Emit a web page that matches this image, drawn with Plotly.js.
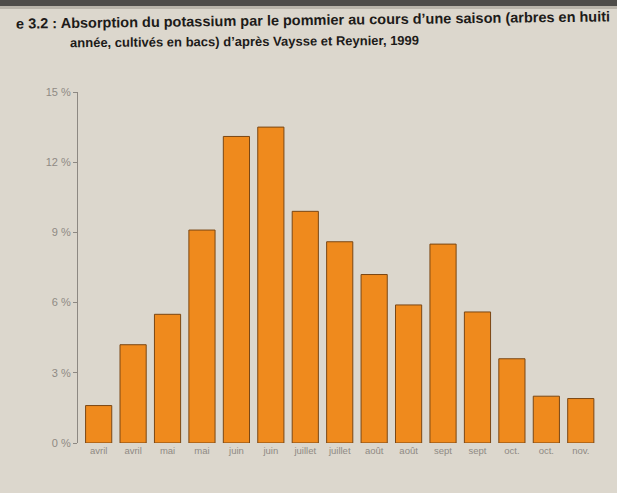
<!DOCTYPE html>
<html>
<head>
<meta charset="utf-8">
<script src="https://cdn.plot.ly/plotly-3.0.1.min.js"></script>
<style>html,body{margin:0;padding:0;background:#dcd7cd;}#chart{width:617px;height:493px;}</style>
</head>
<body>
<div id="chart"></div>
<script>
// Month labels (two bars per month, last one "nov.")
const monthLabels = ["avril","avril","mai","mai","juin","juin","juillet","juillet","août","août","sept","sept","oct.","oct.","nov."];
// Share of the season's potassium absorption (%)
const absorption = [1.6, 4.2, 5.5, 9.1, 13.1, 13.5, 9.9, 8.6, 7.2, 5.9, 8.5, 5.6, 3.6, 2.0, 1.9];
const yTickVals = [0, 3, 6, 9, 12, 15];
const yTickText = ["0 %", "3 %", "6 %", "9 %", "12 %", "15 %"];
const titleLine1 = "e 3.2 : Absorption du potassium par le pommier au cours d’une saison (arbres en huiti";
const titleLine2 = "année, cultivés en bacs) d’après Vaysse et Reynier, 1999";

const idx = monthLabels.map((_, i) => i);
const W = 617, H = 493, ml = 78, mr = 19, mt = 92, mb = 50;
const pw = W - ml - mr, ph = H - mt - mb;
const px = x => (x - ml) / pw;
const py = y => 1 - (y - mt) / ph;
const fam = "Liberation Sans, Arial, sans-serif";

const trace = {
  type: "bar",
  x: idx,
  y: absorption,
  marker: {color: "#ef8a1d", line: {color: "#7a4714", width: 1}},
  hoverinfo: "skip"
};

const layout = {
  width: W, height: H,
  margin: {l: ml, r: mr, t: mt, b: mb},
  paper_bgcolor: "#dcd7cd",
  plot_bgcolor: "#dcd7cd",
  bargap: 0.24,
  showlegend: false,
  font: {family: fam},
  xaxis: {
    range: [-0.6, 14.5],
    tickvals: idx,
    ticktext: monthLabels,
    showgrid: false, zeroline: false, showline: false,
    ticks: "",
    tickfont: {size: 9.5, color: "#8f8a84", family: fam},
    tickangle: 0,
    fixedrange: true
  },
  yaxis: {
    range: [0, 15],
    tickvals: yTickVals,
    ticktext: yTickText,
    showgrid: false, zeroline: false,
    showline: true, linecolor: "#8d8882", linewidth: 1,
    ticks: "outside", ticklen: 4, tickcolor: "#8d8882",
    tickfont: {size: 11, color: "#8f8a84", family: fam},
    fixedrange: true
  },
  shapes: [
    {type: "rect", xref: "paper", yref: "paper", x0: px(0), x1: px(W), y0: py(0), y1: py(6), fillcolor: "#4e4c49", line: {width: 0}, layer: "below"},
    {type: "rect", xref: "paper", yref: "paper", x0: px(0), x1: px(W), y0: py(6), y1: py(9), fillcolor: "#b9b4aa", line: {width: 0}, layer: "below"}
  ],
  annotations: [
    {xref: "paper", yref: "paper", x: px(14), y: py(20), xanchor: "left", yanchor: "middle",
     text: titleLine1, showarrow: false, textangle: -0.7,
     font: {size: 14.5, color: "#1d1b19", family: fam, weight: "bold"}},
    {xref: "paper", yref: "paper", x: px(68), y: py(41), xanchor: "left", yanchor: "middle",
     text: titleLine2, showarrow: false, textangle: -0.4,
     font: {size: 13, color: "#1d1b19", family: fam, weight: "bold"}}
  ]
};

Plotly.newPlot("chart", [trace], layout, {displayModeBar: false, staticPlot: true});
</script>
</body>
</html>
